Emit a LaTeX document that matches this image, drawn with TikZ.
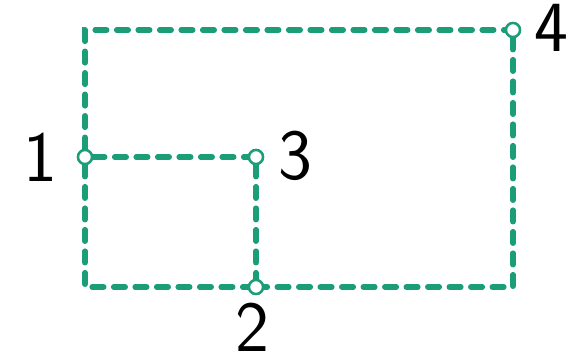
\documentclass[tikz,border=0pt]{standalone}
\definecolor{dgreen}{HTML}{1B9E77}
\begin{document}
\begin{tikzpicture}[x=1pt,y=1pt,
  vtx/.style={circle,draw=dgreen,fill=white,line width=2.4pt,minimum size=14pt,inner sep=0pt},
  link/.style={draw=dgreen,line width=5.5pt,line cap=round,dash pattern=on 11.5pt off 10pt},
  lbl/.style={font=\fontsize{72}{72}\selectfont\sffamily,inner sep=0pt}]
\useasboundingbox (0,0) rectangle (584,361);
\node[vtx] (n1) at (85,204) {};
\node[vtx] (n3) at (256,204) {};
\node[vtx] (n2) at (256,74) {};
\node[vtx] (n4) at (513,331) {};
\path[link] (n1) |- (n4);
\path[link] (n4) |- (n2);
\path[link] (n1) |- (n2);
\path[link] (n1) -- (n3);
\path[link] (n3) -- (n2);
\node[vtx] at (n1) {};
\node[vtx] at (n3) {};
\node[vtx] at (n2) {};
\node[vtx] at (n4) {};
\node[lbl] (l1) at (40,204) {1};
\node[lbl] (l3) at (295,205) {3};
\node[lbl] (l2) at (252,34) {2};
\node[lbl] (l4) at (551,333) {4};
\end{tikzpicture}
\end{document}
